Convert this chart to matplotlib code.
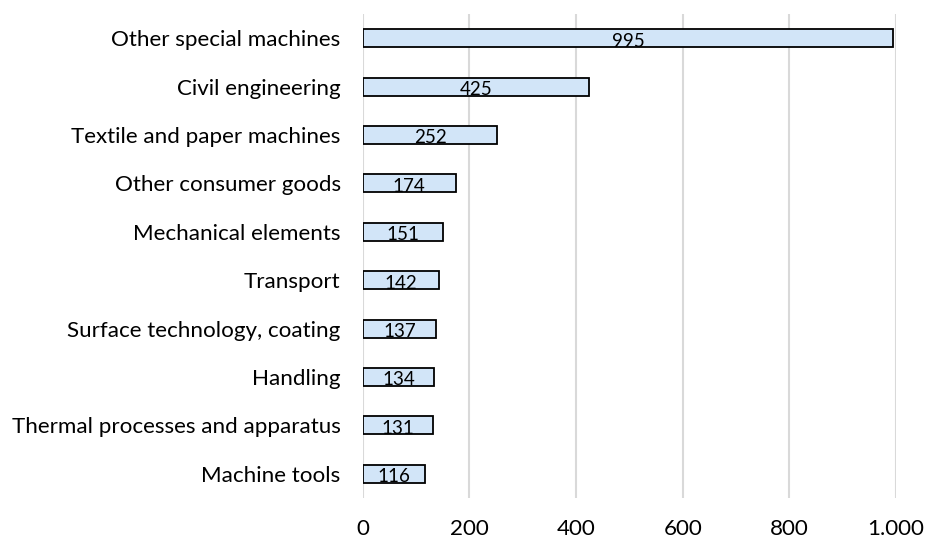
import matplotlib
matplotlib.use("Agg")
import matplotlib.pyplot as plt
from matplotlib.ticker import FuncFormatter

categories = [
    "Other special machines",
    "Civil engineering",
    "Textile and paper machines",
    "Other consumer goods",
    "Mechanical elements",
    "Transport",
    "Surface technology, coating",
    "Handling",
    "Thermal processes and apparatus",
    "Machine tools",
]
values = [995, 425, 252, 174, 151, 142, 137, 134, 131, 116]

plt.rcParams["font.family"] = ["Lato", "DejaVu Sans"]

fig = plt.figure(figsize=(9.28, 5.38), dpi=100)
ax = fig.add_axes([0.391, 0.0743, 0.5745, 0.8997])

pos = list(range(len(categories)))[::-1]
bars = ax.barh(pos, values, height=0.37, color="#D2E5F8", edgecolor="black", linewidth=1.3, zorder=3)

# value labels sit a bit low in the bar, like in the original
for b, v in zip(bars, values):
    ax.text(b.get_width() / 2, b.get_y() + b.get_height() / 2 - 0.06, str(v),
            ha="center", va="center", fontsize=13.5, zorder=4)

ax.set_xlim(0, 1000)
ax.set_ylim(-0.5, 9.5)
ax.set_yticks(pos)
ax.set_yticklabels(categories, fontsize=16.1)
ax.set_xticks([0, 200, 400, 600, 800, 1000])
ax.xaxis.set_major_formatter(FuncFormatter(lambda x, p: f"{int(x):,}".replace(",", ".")))
ax.tick_params(axis="x", labelsize=16.1, length=0, pad=15)
ax.tick_params(axis="y", length=0, pad=16)
ax.grid(axis="x", color="#D9D9D9", linewidth=1.5, zorder=0)
for s in ax.spines.values():
    s.set_visible(False)

fig.savefig("out.png", dpi=100)
